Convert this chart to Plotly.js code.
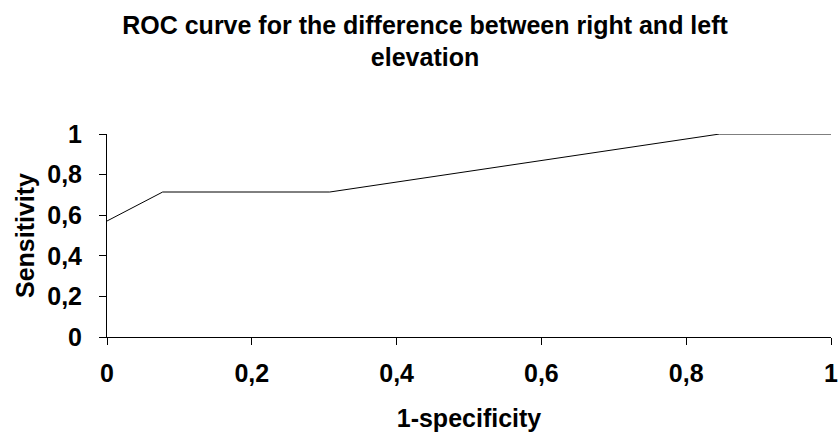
<!DOCTYPE html>
<html>
<head>
<meta charset="utf-8">
<script src="https://cdn.plot.ly/plotly-3.0.1.min.js"></script>
<style>html,body{margin:0;padding:0;background:#fff;}#chart{width:840px;height:434px;}</style>
</head>
<body>
<div id="chart"></div>
<script>
// 1-specificity (false positive rate)
const fpr = [0, 0.0769, 0.3077, 0.8462, 1];
// Sensitivity (true positive rate)
const tpr = [0.5714, 0.7143, 0.7143, 1, 1];
const xTickVals = [0, 0.2, 0.4, 0.6, 0.8, 1];
const xTickText = ["0", "0,2", "0,4", "0,6", "0,8", "1"];
const yTickVals = [0, 0.2, 0.4, 0.6, 0.8, 1];
const yTickText = ["0", "0,2", "0,4", "0,6", "0,8", "1"];

const font = "Liberation Sans, Arial, sans-serif";

const trace = {
  x: fpr, y: tpr, type: "scatter", mode: "lines",
  line: {color: "#000000", width: 1},
  hoverinfo: "skip"
};

const layout = {
  width: 840, height: 434,
  paper_bgcolor: "#ffffff", plot_bgcolor: "#ffffff",
  margin: {l: 107, r: 9, t: 134, b: 97},
  showlegend: false,
  title: {
    text: "<b>ROC curve for the difference between right and left<br>elevation</b>",
    font: {family: font, size: 25, color: "#000"},
    x: 0.506, xanchor: "center", y: 0.922, yanchor: "top"
  },
  xaxis: {
    range: [0, 1], tickvals: xTickVals, ticktext: xTickText,
    showgrid: false, zeroline: false, showline: true, linecolor: "#000", linewidth: 1,
    ticks: "outside", ticklen: 7, tickcolor: "#000", tickwidth: 1,
    tickfont: {family: font, size: 25, color: "#000", weight: "bold"},
    ticklabelstandoff: 7,
    title: {text: "<b>1-specificity</b>", font: {family: font, size: 25, color: "#000"}, standoff: 23}
  },
  yaxis: {
    range: [0, 1], tickvals: yTickVals, ticktext: yTickText,
    showgrid: false, zeroline: false, showline: true, linecolor: "#000", linewidth: 1,
    ticks: "outside", ticklen: 7, tickcolor: "#000", tickwidth: 1,
    tickfont: {family: font, size: 25, color: "#000", weight: "bold"},
    ticklabelstandoff: 12,
    title: {text: "<b>Sensitivity</b>", font: {family: font, size: 25, color: "#000"}, standoff: 5}
  }
};

Plotly.newPlot("chart", [trace], layout, {displayModeBar: false, staticPlot: true});
</script>
</body>
</html>
